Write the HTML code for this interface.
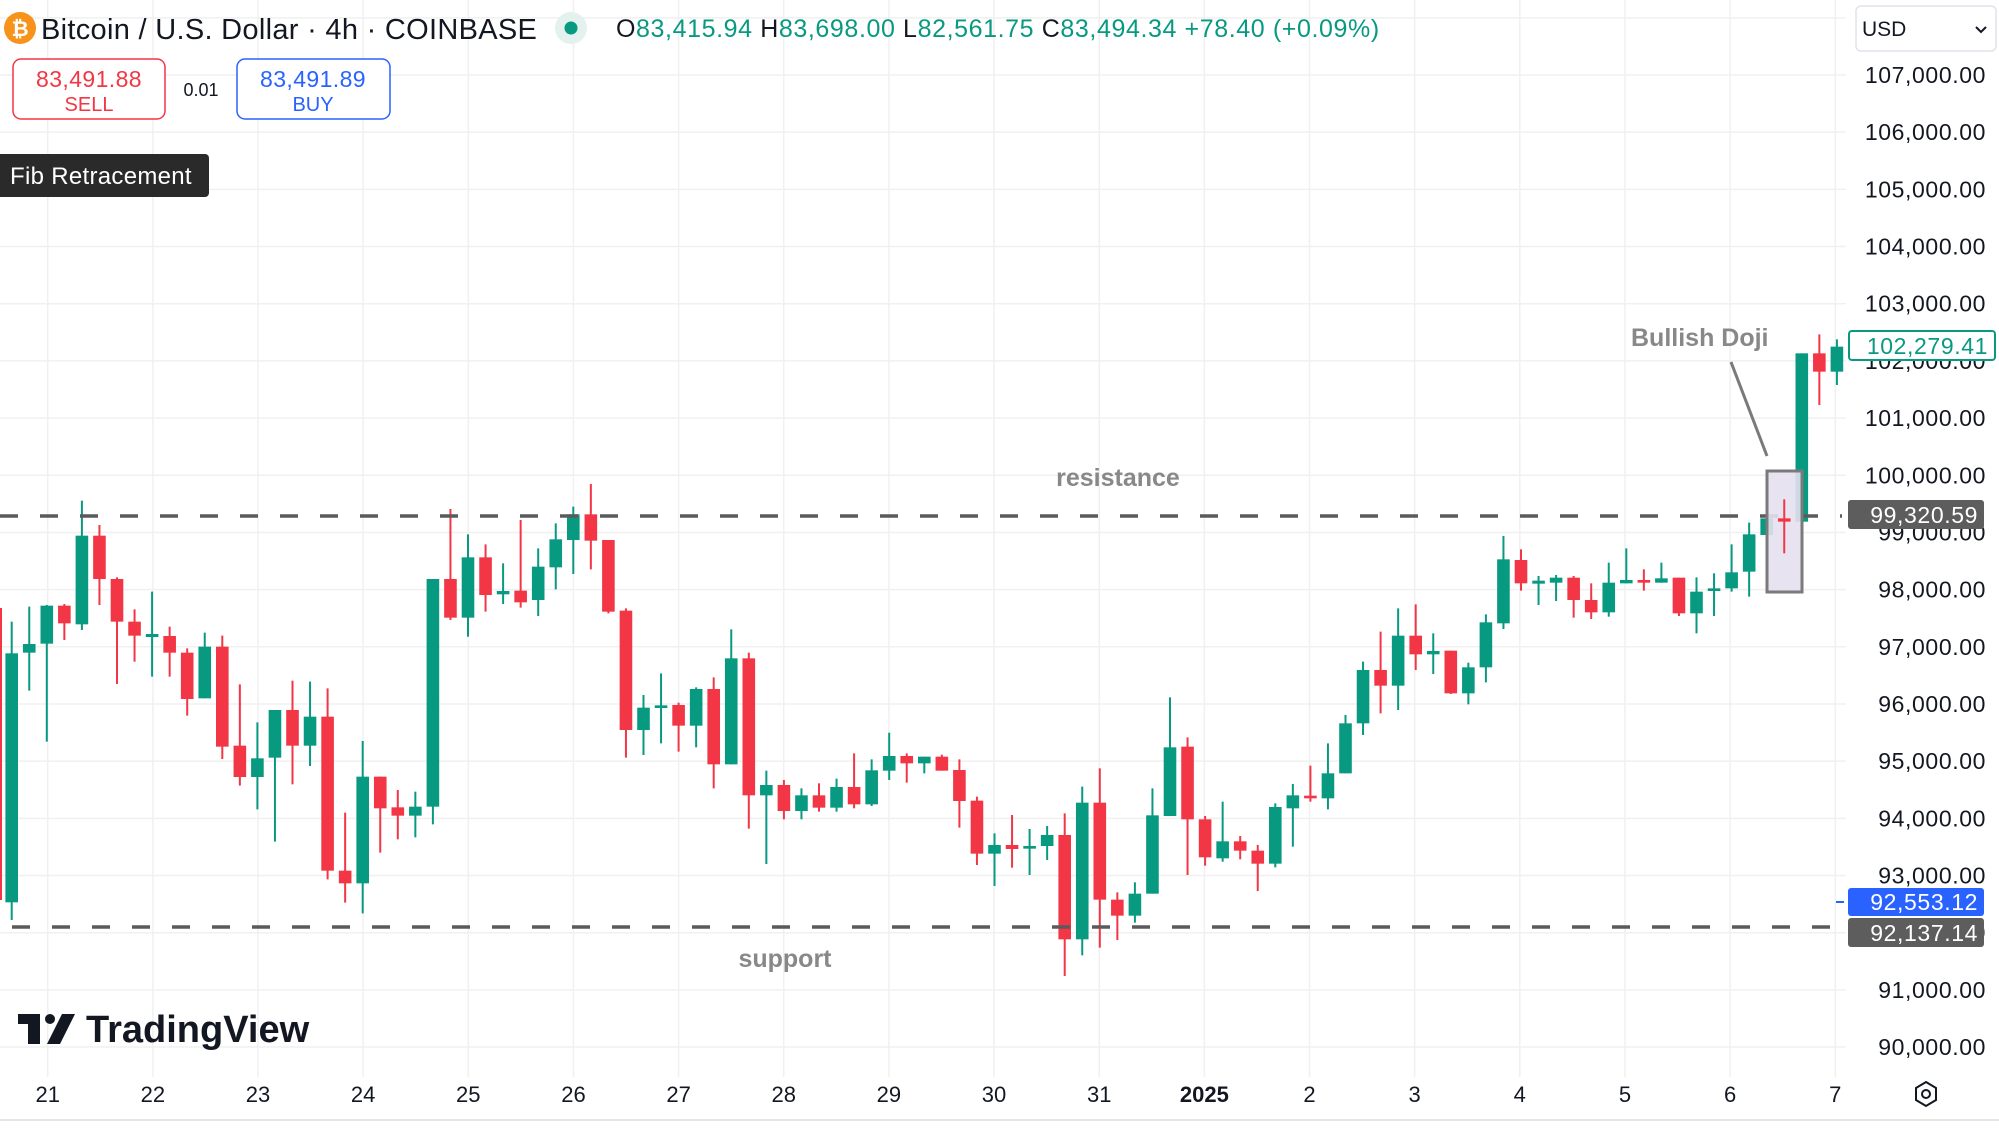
<!DOCTYPE html>
<html><head><meta charset="utf-8"><style>
html,body{margin:0;padding:0;background:#fff;}
body{width:1999px;height:1132px;overflow:hidden;position:relative;font-family:"Liberation Sans",Arial,sans-serif;}
svg{position:absolute;left:0;top:0;}
</style></head><body>
<svg id="s" width="1999" height="1132" viewBox="0 0 1999 1132" xmlns="http://www.w3.org/2000/svg" font-family="Liberation Sans, Arial, sans-serif">
<g id="grid" stroke="#f0f0f0" stroke-width="1.5"></g>
<g id="candles"></g>
<line x1="0" y1="516" x2="1842" y2="516" stroke="#5a5a5a" stroke-width="3.5" stroke-dasharray="18,22"/>
<line x1="12" y1="927" x2="1842" y2="927" stroke="#5a5a5a" stroke-width="3.5" stroke-dasharray="18,22"/>
<text x="1118" y="486" font-size="25" font-weight="bold" fill="#888" text-anchor="middle">resistance</text>
<text x="785" y="967" font-size="25" font-weight="bold" fill="#888" text-anchor="middle">support</text>
<rect x="1767" y="471" width="35" height="121" fill="#e6e0f0" fill-opacity="0.9" stroke="#7a7a7a" stroke-width="3"/>
<g id="doji"></g>
<line x1="1731" y1="362" x2="1767" y2="456" stroke="#7a7a7a" stroke-width="3"/>
<text x="1631" y="346" font-size="25" font-weight="bold" fill="#888">Bullish Doji</text>
<line x1="0" y1="1120" x2="1999" y2="1120" stroke="#e6e6e6" stroke-width="2"/>
<g id="plabels" font-size="23" fill="#131722" text-anchor="end" letter-spacing="0.6"></g>
<g id="tlabels" font-size="22" fill="#131722" text-anchor="middle"></g>
<rect x="1849" y="331" width="146" height="29" rx="3" fill="#fff" stroke="#089981" stroke-width="2"/>
<text x="1988" y="354" font-size="23" fill="#089981" text-anchor="end" letter-spacing="0.6">102,279.41</text>
<rect x="1848" y="500" width="136" height="29" rx="3" fill="#5d5d5d"/>
<text x="1978" y="523" font-size="23" fill="#fff" text-anchor="end" letter-spacing="0.6">99,320.59</text>
<line x1="1836" y1="902" x2="1844" y2="902" stroke="#2962ff" stroke-width="2"/>
<rect x="1848" y="888" width="136" height="28" rx="3" fill="#2962ff"/>
<text x="1978" y="910" font-size="23" fill="#fff" text-anchor="end" letter-spacing="0.6">92,553.12</text>
<rect x="1848" y="918" width="136" height="29" rx="3" fill="#5d5d5d"/>
<text x="1978" y="941" font-size="23" fill="#fff" text-anchor="end" letter-spacing="0.6">92,137.14</text>
<g transform="translate(1926,1094)" fill="none" stroke="#131722" stroke-width="2">
<polygon points="0,-12 10,-6 10,6 0,12 -10,6 -10,-6"/><circle r="4"/></g>
<circle cx="20" cy="28" r="16" fill="#f7931a"/>
<text x="20" y="36" font-size="21" font-weight="bold" fill="#fff" text-anchor="middle">₿</text>
<text x="41" y="39" font-size="29" fill="#131722" letter-spacing="0.3">Bitcoin / U.S. Dollar · 4h · COINBASE</text>
<circle cx="571" cy="28" r="16" fill="#e3f2ee"/>
<circle cx="571" cy="28" r="6.5" fill="#089981"/>
<text x="616" y="37" font-size="25" fill="#089981" letter-spacing="0.6"><tspan fill="#131722">O</tspan>83,415.94 <tspan fill="#131722">H</tspan>83,698.00 <tspan fill="#131722">L</tspan>82,561.75 <tspan fill="#131722">C</tspan>83,494.34 +78.40 (+0.09%)</text>
<rect x="13" y="59" width="152" height="60" rx="8" fill="#fff" stroke="#f23645" stroke-width="1.5"/>
<text x="89" y="87" font-size="23" fill="#f23645" text-anchor="middle" letter-spacing="0.4">83,491.88</text>
<text x="89" y="111" font-size="20" fill="#f23645" text-anchor="middle">SELL</text>
<text x="201" y="96" font-size="18" fill="#131722" text-anchor="middle">0.01</text>
<rect x="237" y="59" width="153" height="60" rx="8" fill="#fff" stroke="#2962ff" stroke-width="1.5"/>
<text x="313" y="87" font-size="23" fill="#2962ff" text-anchor="middle" letter-spacing="0.4">83,491.89</text>
<text x="313" y="111" font-size="20" fill="#2962ff" text-anchor="middle">BUY</text>
<rect x="-6" y="154" width="215" height="43" rx="4" fill="#2a2a2a"/>
<text x="10" y="184" font-size="24" fill="#fff" letter-spacing="0.3">Fib Retracement</text>
<rect x="1856" y="6" width="140" height="45" rx="5" fill="#fff" stroke="#e0e3eb" stroke-width="1.5"/>
<text x="1862" y="36" font-size="21" fill="#131722">USD</text>
<polyline points="1976,27 1981,32 1986,27" fill="none" stroke="#131722" stroke-width="2"/>
<g fill="#131722">
<rect x="18" y="1014" width="22" height="10"/><rect x="28" y="1014" width="12" height="30"/>
<circle cx="50" cy="1019" r="5"/>
<polygon points="62,1014 75,1014 60,1044 47,1044"/>
</g>
<text x="86" y="1042" font-size="38" font-weight="bold" fill="#131722" letter-spacing="0">TradingView</text>
</svg>
<script>
var NS="http://www.w3.org/2000/svg";
function el(tag,attrs,parent){var e=document.createElementNS(NS,tag);for(var k in attrs)e.setAttribute(k,attrs[k]);parent.appendChild(e);return e;}
var grid=document.getElementById('grid');
for(var p=90;p<=108;p++){var y=75+(107-p)*57.18;el('line',{x1:0,y1:y,x2:1846,y2:y},grid);}
var dayX=[];for(var k=0;k<18;k++){var x=47.7+k*105.15;dayX.push(x);el('line',{x1:x,y1:0,x2:x,y2:1077},grid);}
var pl=document.getElementById('plabels');
for(var p=90;p<=107;p++){var y=75+(107-p)*57.18;var t=el('text',{x:1986,y:y+8},pl);t.textContent=p+",000.00";}
var tl=document.getElementById('tlabels');
var days=["21","22","23","24","25","26","27","28","29","30","31","2025","2","3","4","5","6","7"];
days.forEach(function(d,i){var t=el('text',{x:dayX[i],y:1102},tl);if(d=="2025")t.setAttribute('font-weight','bold');t.textContent=d;});
var groups=[
[480,[[520,1267,425,1320,'g'],[492,518,380,632,'g'],[377,491,375,785,'g'],[377,430,372,480,'r'],[167,433,62,450,'g'],[167,297,135,375,'r'],[297,425,292,612,'r'],[425,467,388,545,'r'],[465,468,335,590,'g'],[468,518,440,590,'r'],[518,657,505,707,'r'],[500,655,458,655,'g'],[500,800,467,837,'r'],[797,891,613,917,'r'],[835,891,727,988,'g'],[690,833,690,1085,'g'],[690,797,602,913,'r'],[710,797,605,858,'g'],[710,1172,625,1198,'r'],[1172,1210,998,1268,'r'],[890,1210,783,1300,'g'],[890,985,890,1118,'r'],[982,1007,930,1078,'r'],[980,1007,935,1072,'g'],[297,980,297,1033,'g'],[297,413,87,420,'r']]],
[480,[[232,413,163,470,'g'],[232,345,193,395,'r'],[333,343,250,372,'g'],[332,367,120,383,'r'],[260,360,205,408,'g'],[178,262,130,328,'g'],[103,180,80,282,'g'],[103,182,12,268,'r'],[180,395,180,400,'r'],[392,750,385,833,'r'],[683,750,645,825,'g'],[676,684,580,790,'g'],[675,737,668,815,'r'],[627,737,622,802,'g'],[627,853,592,925,'r'],[535,853,448,853,'g'],[535,946,518,1046,'r'],[915,946,872,1152,'g'],[915,993,900,1018,'r'],[946,993,925,1018,'g'],[946,983,910,995,'r'],[921,983,896,995,'g'],[921,973,820,985,'r'],[871,973,838,978,'g']]],
[680,[[228,272,158,300,'g'],[228,250,220,308,'r'],[230,250,230,280,'g'],[230,272,224,272,'r'],[270,363,238,443,'r'],[362,521,350,555,'r'],[495,521,460,618,'g'],[495,507,405,563,'r'],[498,506,447,585,'g'],[465,498,438,540,'g'],[465,778,400,888,'r'],[368,778,320,826,'g'],[368,659,265,803,'r'],[659,707,637,780,'r'],[641,707,607,728,'g'],[406,641,325,641,'g'],[202,408,52,408,'g'],[200,418,172,585,'r'],[418,532,408,557,'r'],[484,535,365,545,'g'],[484,512,468,538,'r'],[512,551,495,633,'r'],[381,551,370,562,'g'],[346,385,312,500,'g'],[347,355,257,365,'r'],[280,355,190,388,'g']]],
[520,[[610,760,585,760,'g'],[450,610,425,645,'g'],[450,497,335,580,'r'],[347,497,265,570,'g'],[347,403,253,450,'r'],[393,403,340,462,'g'],[392,520,392,522,'r'],[442,520,428,553,'g'],[307,442,283,487,'g'],[118,310,48,327,'g'],[120,190,88,212,'r'],[183,190,168,255,'g'],[173,188,165,243,'g'],[173,240,168,293,'r'],[240,277,190,297,'r'],[188,277,128,290,'g'],[180,190,85,190,'g'],[180,188,148,212,'r'],[175,188,128,188,'g'],[173,280,173,288,'r'],[215,280,172,340,'g'],[205,213,160,288,'g'],[157,205,73,215,'g']]],
[300,[[703,815,668,890,'g'],[655,705,550,705,'g'],[655,665,598,760,'r'],[160,665,160,755,'g'],[160,215,103,315,'r'],[140,215,118,255,'g']]]
];
var cg=document.getElementById('candles');var dg=document.getElementById('doji');
var idx=0;
el('line',{x1:1,y1:608,x2:1,y2:900,stroke:'#f23645','stroke-width':2},cg);
groups.forEach(function(g){var oy=g[0];g[1].forEach(function(c){
 var x=11.7+idx*17.55;var col=c[4]=='g'?'#089981':'#f23645';
 var t=oy+c[0]/3,b=oy+c[1]/3,h=oy+c[2]/3,l=oy+c[3]/3;if(b-t<2.5){var m=(t+b)/2;t=m-1.5;b=m+1.5;}
 var par=(idx==101)?dg:cg;
 el('line',{x1:x,y1:h,x2:x,y2:l,stroke:col,'stroke-width':2},par);
 el('rect',{x:x-6.3,y:t,width:12.6,height:b-t,fill:col},par);
 idx++;});});
document.getElementById('s').appendChild(dg);
</script>
</body></html>
